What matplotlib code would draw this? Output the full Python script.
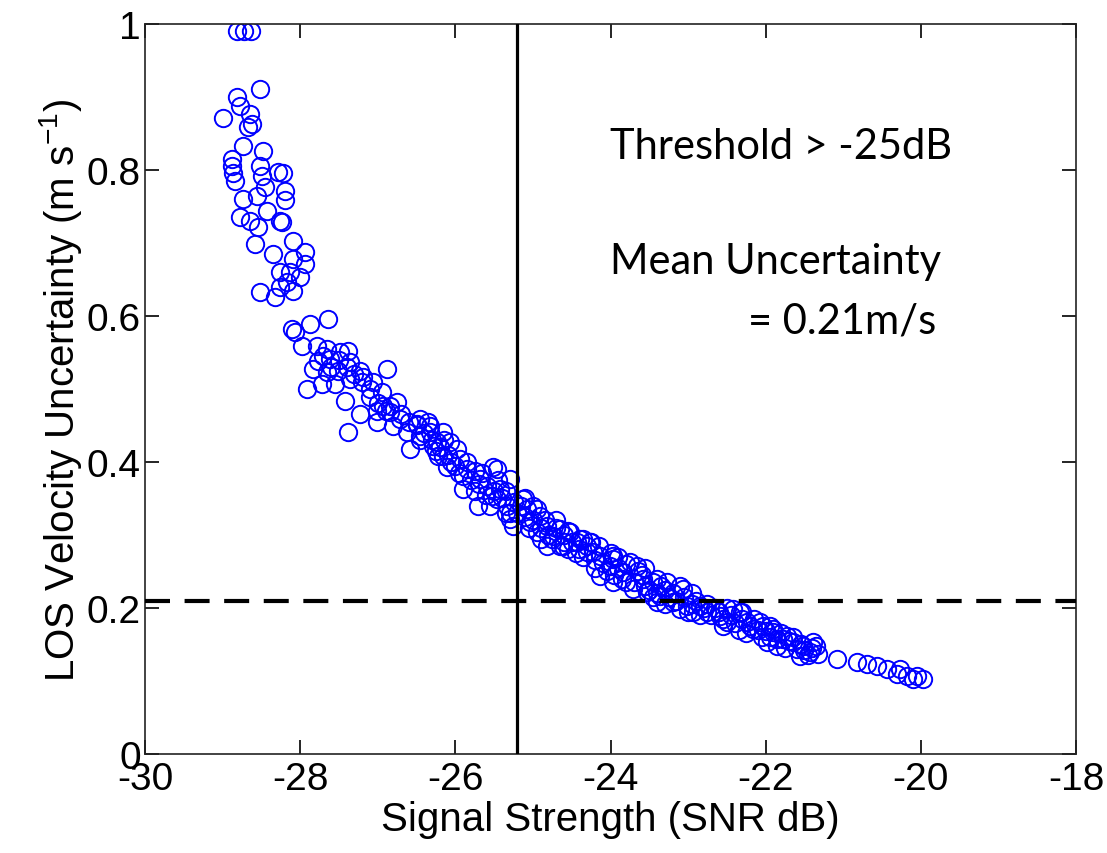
import matplotlib
matplotlib.use("Agg")
import matplotlib.pyplot as plt

# ---- data ----
snr_db = [
    -28.81, -28.73, -28.64, -28.52, -28.81, -28.78, -29.00, -28.65, -28.62, -28.67,
    -28.74, -28.48, -28.88, -28.88, -28.87, -28.84, -28.52, -28.49, -28.29, -28.22,
    -28.45, -28.20, -28.74, -28.56, -28.20, -28.43, -28.78, -28.65, -28.26, -28.54,
    -28.23, -28.58, -28.35, -28.09, -27.94, -28.09, -27.94, -28.26, -28.13, -28.00,
    -28.17, -28.26, -28.09, -28.52, -28.32,
    -27.64, -28.11, -28.07, -27.87, -27.98, -27.78, -27.65, -27.38, -27.49, -27.77,
    -27.62, -27.36, -27.84, -27.65, -27.51, -27.23, -26.88, -27.91, -27.72, -27.55,
    -27.36, -27.19, -27.06, -26.95, -27.42, -27.10, -27.23, -27.01, -26.84, -26.71,
    -27.38, -26.58, -26.46, -26.33, -26.24, -26.16, -26.80, -26.62, -26.49, -26.84,
    -26.75, -26.93, -27.01,
    -26.46, -26.33, -26.16, -26.07, -26.29, -26.22, -25.98, -25.94, -26.11, -25.85,
    -25.75, -25.52, -25.90, -25.68, -25.59, -25.43, -25.30, -25.71, -25.46, -25.34,
    -25.53, -25.30, -25.26, -25.13, -25.08, -25.00, -25.04, -24.91, -24.82, -24.95,
    -24.74, -24.65, -24.52, -24.61, -24.43, -24.30, -24.23, -23.97, -24.82, -25.46,
    -24.39, -24.27, -24.30, -24.14, -23.97, -24.01, -23.75, -23.66, -23.84, -24.14,
    -23.97, -23.58, -23.45, -23.27, -23.71, -23.53, -23.36, -23.07, -23.20, -23.02,
    -22.85, -22.94, -22.76, -22.59, -22.42, -22.33, -22.50, -22.24, -22.07, -22.16,
    -21.91, -23.11, -23.40,
    -22.04, -21.91, -21.78, -21.65, -21.52, -21.39, -21.43, -21.56, -21.33, -21.08,
    -20.82, -20.70, -20.57, -20.44, -20.27, -20.31, -20.18, -20.05, -19.97, -20.10,
    -21.73, -21.86, -21.98, -21.60,
    -24.60, -24.55, -24.45, -24.35, -24.20, -24.10, -24.05, -23.90, -23.85, -23.80,
    -23.60, -23.55, -23.50, -23.40, -23.30, -23.25, -23.15, -23.05, -22.95, -22.90,
    -22.80, -22.70, -22.65, -22.55, -22.45, -22.40, -22.30, -22.20, -22.10, -22.00,
    -21.95, -21.85, -21.70, -21.50, -21.40,
    -25.20, -25.10, -24.90, -24.85, -24.70, -24.75, -24.60, -25.00, -25.15,
    -25.90, -25.80, -25.70, -25.60, -25.50, -25.40, -25.35, -26.00, -26.10, -26.20,
    -26.30, -26.40, -26.50, -26.60, -26.70, -26.90, -27.00, -27.10, -27.20, -27.30,
    -27.40, -27.50, -27.60, -27.70,
    -26.45, -26.35, -26.25, -26.15, -26.05, -25.95, -25.85, -25.75, -25.65, -25.55,
    -25.45, -25.35, -25.25, -25.30, -25.10, -25.05, -24.95, -24.90, -24.80, -24.70,
    -24.65, -24.55, -24.50, -24.40, -24.35, -24.25, -24.20, -24.15, -24.00, -23.95,
    -23.90, -23.80, -23.70, -23.65, -23.55, -23.45, -23.40, -23.35, -23.30, -23.20,
    -23.10, -23.00, -22.95, -22.85, -22.75, -22.60, -22.55, -22.50, -22.35, -22.30,
    -22.25, -22.15, -22.05, -21.95, -21.80, -21.75, -21.65, -21.55, -21.45, -21.35,
]
los_uncert = [
    0.990, 0.990, 0.990, 0.911, 0.900, 0.888, 0.871, 0.877, 0.863, 0.859,
    0.832, 0.826, 0.815, 0.805, 0.795, 0.785, 0.805, 0.792, 0.797, 0.795,
    0.777, 0.771, 0.760, 0.764, 0.758, 0.744, 0.736, 0.730, 0.730, 0.722,
    0.729, 0.699, 0.685, 0.703, 0.688, 0.678, 0.671, 0.660, 0.660, 0.653,
    0.647, 0.640, 0.634, 0.633, 0.626,
    0.596, 0.582, 0.578, 0.589, 0.559, 0.559, 0.555, 0.552, 0.551, 0.538,
    0.541, 0.537, 0.527, 0.523, 0.525, 0.525, 0.527, 0.500, 0.507, 0.507,
    0.514, 0.516, 0.510, 0.496, 0.484, 0.489, 0.466, 0.455, 0.468, 0.459,
    0.441, 0.418, 0.436, 0.441, 0.427, 0.408, 0.449, 0.441, 0.452, 0.477,
    0.482, 0.477, 0.470,
    0.459, 0.449, 0.441, 0.427, 0.422, 0.408, 0.418, 0.404, 0.393, 0.390,
    0.388, 0.393, 0.363, 0.377, 0.367, 0.363, 0.377, 0.340, 0.349, 0.340,
    0.353, 0.322, 0.312, 0.349, 0.336, 0.340, 0.318, 0.326, 0.312, 0.304,
    0.299, 0.308, 0.304, 0.285, 0.290, 0.285, 0.277, 0.271, 0.285, 0.390,
    0.295, 0.290, 0.277, 0.271, 0.267, 0.258, 0.263, 0.258, 0.249, 0.244,
    0.236, 0.240, 0.236, 0.236, 0.226, 0.222, 0.216, 0.226, 0.208, 0.203,
    0.203, 0.195, 0.195, 0.189, 0.199, 0.195, 0.181, 0.181, 0.181, 0.171,
    0.171, 0.199, 0.208,
    0.175, 0.167, 0.158, 0.153, 0.148, 0.153, 0.140, 0.134, 0.137, 0.130,
    0.126, 0.123, 0.121, 0.116, 0.116, 0.110, 0.107, 0.107, 0.103, 0.103,
    0.162, 0.148, 0.153, 0.144,
    0.290, 0.280, 0.275, 0.270, 0.265, 0.262, 0.250, 0.255, 0.240, 0.235,
    0.245, 0.230, 0.225, 0.220, 0.225, 0.215, 0.210, 0.215, 0.205, 0.210,
    0.200, 0.190, 0.200, 0.185, 0.190, 0.180, 0.185, 0.175, 0.170, 0.168,
    0.160, 0.158, 0.155, 0.143, 0.145,
    0.330, 0.325, 0.310, 0.320, 0.310, 0.295, 0.300, 0.320, 0.340,
    0.380, 0.375, 0.370, 0.355, 0.360, 0.350, 0.330, 0.395, 0.410, 0.420,
    0.430, 0.440, 0.450, 0.455, 0.465, 0.470, 0.480, 0.500, 0.510, 0.520,
    0.530, 0.540, 0.530, 0.545,
    0.430, 0.455, 0.415, 0.430, 0.400, 0.385, 0.400, 0.360, 0.385, 0.340,
    0.375, 0.360, 0.345, 0.330, 0.350, 0.310, 0.335, 0.295, 0.300, 0.320,
    0.285, 0.305, 0.290, 0.280, 0.295, 0.290, 0.255, 0.285, 0.275, 0.245,
    0.270, 0.260, 0.235, 0.250, 0.255, 0.215, 0.240, 0.230, 0.205, 0.220,
    0.230, 0.195, 0.220, 0.190, 0.205, 0.195, 0.175, 0.200, 0.170, 0.195,
    0.165, 0.185, 0.160, 0.175, 0.165, 0.145, 0.160, 0.150, 0.135, 0.148,
]
threshold_snr = -25.2
mean_uncert = 0.21
x_ticks = [-30, -28, -26, -24, -22, -20, -18]
y_ticks = [0, 0.2, 0.4, 0.6, 0.8, 1]
y_ticklabels = ["0", "0.2", "0.4", "0.6", "0.8", "1"]

plt.rcParams["font.family"] = ["Liberation Sans", "DejaVu Sans"]

fig = plt.figure(figsize=(11.07, 8.54), dpi=100)
ax = fig.add_axes([0.131, 0.116, 0.841, 0.855])

ax.plot(snr_db, los_uncert, linestyle="none", marker="o", markersize=12.5,
        markerfacecolor="none", markeredgecolor="#0000ff", markeredgewidth=1.4,
        zorder=2)

ax.axvline(threshold_snr, color="black", linewidth=2.3, zorder=3)
ax.axhline(mean_uncert, color="black", linewidth=3, dashes=(6, 3.5), zorder=3)

ax.set_xlim(-30, -18)
ax.set_ylim(0, 1)
ax.set_xticks(x_ticks)
ax.set_xticklabels([str(t) for t in x_ticks])
ax.set_yticks(y_ticks)
ax.set_yticklabels(y_ticklabels)
ax.tick_params(direction="in", length=10, width=1.2, labelsize=28,
               top=True, right=True, colors="black")
ax.tick_params(axis="y", pad=3)
ax.tick_params(axis="x", pad=5)
for s in ax.spines.values():
    s.set_linewidth(1.2)
    s.set_color("#222222")

ax.set_xlabel("Signal Strength (SNR dB)", fontsize=29, labelpad=2)
ax.set_ylabel(r"LOS Velocity Uncertainty (m s$^{\mathdefault{-1}}$)", fontsize=29, labelpad=2)

ann_font = ["Lato", "DejaVu Sans"]
ax.text(-24.01, 0.832, "Threshold > -25dB", fontsize=30, family=ann_font,
        va="center", ha="left")
ax.text(-24.01, 0.675, "Mean Uncertainty", fontsize=30, family=ann_font,
        va="center", ha="left")
ax.text(-22.23, 0.593, "= 0.21m/s", fontsize=30, family=ann_font,
        va="center", ha="left")

fig.savefig("out.png", dpi=100)
